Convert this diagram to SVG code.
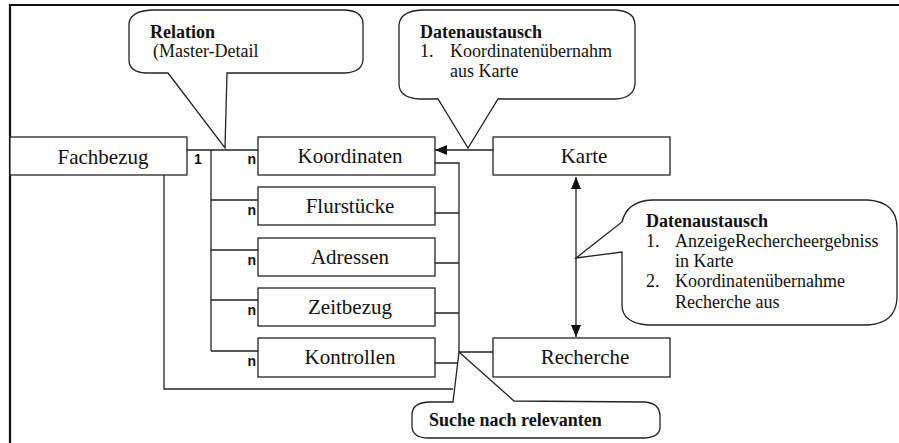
<svg xmlns="http://www.w3.org/2000/svg" width="899" height="443" viewBox="0 0 899 443">
<style>
.box{fill:#fff;stroke:#222;stroke-width:1.3}
.ln{fill:none;stroke:#222;stroke-width:1.3}
.bub{fill:#fff;stroke:#222;stroke-width:1.3;stroke-linejoin:miter}
.lbl{font-family:"Liberation Serif","Times New Roman",serif;font-size:21px;fill:#111;text-anchor:middle}
.bt{font-family:"Liberation Serif","Times New Roman",serif;font-size:18px;fill:#111}
.bb{font-weight:bold}
.card{font-family:"Liberation Sans",Arial,sans-serif;font-size:14px;font-weight:bold;fill:#111}
</style>
<defs>
<marker id="ah" viewBox="0 0 12 10" refX="12" refY="5" markerWidth="12" markerHeight="10" markerUnits="userSpaceOnUse" orient="auto-start-reverse">
<path d="M0,0 L12,5 L0,10 Z" fill="#111"/>
</marker>
</defs>
<rect width="899" height="443" fill="#fff"/>
<path d="M10,443 L10,5 L899,5" fill="none" stroke="#111" stroke-width="2.2"/>

<g id="connectors">
<path class="ln" d="M187,150 L258,150"/>
<path class="ln" d="M211,150 L211,351"/>
<path class="ln" d="M211,200 L258,200 M211,250 L258,250 M211,300 L258,300 M211,351 L258,351"/>
<path class="ln" d="M164,175 L164,389 L453,389"/>
<path class="ln" d="M435,163 L459,163 L459,352"/>
<path class="ln" d="M435,213 L459,213 M435,263 L459,263 M435,313 L459,313 M435,363 L458,363"/>
<path class="ln" d="M459,352 L493,352"/>
<path class="ln" d="M493,150 L435,150" marker-end="url(#ah)"/>
<path class="ln" d="M576,177 L576,337" marker-start="url(#ah)" marker-end="url(#ah)"/>
<text class="card" x="194" y="164">1</text>
<text class="card" x="256" y="164" text-anchor="end">n</text>
<text class="card" x="256" y="215" text-anchor="end">n</text>
<text class="card" x="256" y="265" text-anchor="end">n</text>
<text class="card" x="256" y="315" text-anchor="end">n</text>
<text class="card" x="256" y="366" text-anchor="end">n</text>
</g>

<g id="fachbezug"><rect class="box" x="10" y="137" width="177" height="38"/><text class="lbl" x="103" y="164">Fachbezug</text></g>
<g id="koordinaten"><rect class="box" x="258" y="137" width="177" height="38"/><text class="lbl" x="350" y="163">Koordinaten</text></g>
<g id="flurstuecke"><rect class="box" x="258" y="187" width="177" height="38"/><text class="lbl" x="350" y="213">Flurstücke</text></g>
<g id="adressen"><rect class="box" x="258" y="238" width="177" height="38"/><text class="lbl" x="350" y="264">Adressen</text></g>
<g id="zeitbezug"><rect class="box" x="258" y="288" width="177" height="38"/><text class="lbl" x="350" y="314">Zeitbezug</text></g>
<g id="kontrollen"><rect class="box" x="258" y="338" width="177" height="39"/><text class="lbl" x="350" y="364">Kontrollen</text></g>
<g id="karte"><rect class="box" x="493" y="137" width="177" height="38"/><text class="lbl" x="584" y="163">Karte</text></g>
<g id="recherche"><rect class="box" x="493" y="338" width="177" height="39"/><text class="lbl" x="585" y="364">Recherche</text></g>

<g id="callout-relation">
<path class="bub" d="M168,73 L146,73 Q129,72 129,60 L129,24 Q130,11 152,10 L345,10 Q363,11 363,24 L363,60 Q362,72 345,73 L227,73 L225,148 Z"/>
<text class="bt bb" x="150" y="38">Relation</text>
<text class="bt" x="153" y="57">(Master-Detail</text>
</g>

<g id="callout-datenaustausch-1">
<path class="bub" d="M438,99 L420,99 Q399,98 399,84 L399,25 Q400,11 422,10 L615,10 Q635,11 635,25 L635,84 Q634,98 615,99 L498,99 L468,148 Z"/>
<text class="bt bb" x="420" y="38">Datenaustausch</text>
<text class="bt" x="420" y="57">1.</text>
<text class="bt" x="450" y="57">Koordinatenübernahm</text>
<text class="bt" x="450" y="77">aus Karte</text>
</g>

<g id="callout-datenaustausch-2">
<path class="bub" d="M622,222 Q627,201 652,200 L868,200 Q897,202 897,228 L897,298 Q896,323 868,325 L648,325 Q622,323 622,305 L622,252 L576,258 Z"/>
<text class="bt bb" x="646" y="227">Datenaustausch</text>
<text class="bt" x="646" y="247">1.</text>
<text class="bt" x="675" y="247">AnzeigeRechercheergebniss</text>
<text class="bt" x="675" y="267">in Karte</text>
<text class="bt" x="646" y="287">2.</text>
<text class="bt" x="675" y="287">Koordinatenübernahme</text>
<text class="bt" x="675" y="308">Recherche aus</text>
</g>

<g id="callout-suche">
<path class="bub" d="M453,402 L428,402 Q412,403 412,415 L412,427 Q413,438 428,438 L645,438 Q660,437 660,427 L660,415 Q659,403 645,402 L514,401 L459,352 Z"/>
<text class="bt bb" x="429" y="426">Suche nach relevanten</text>
</g>
</svg>
